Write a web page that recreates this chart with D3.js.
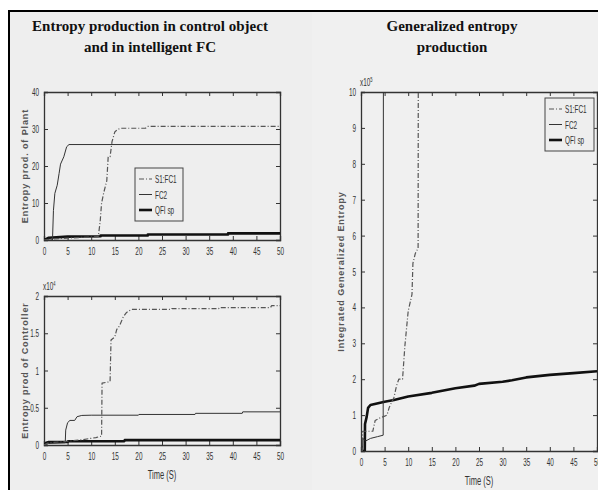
<!DOCTYPE html>
<html>
<head>
<meta charset="utf-8">
<script src="https://cdn.jsdelivr.net/npm/d3@7"></script>
<style>
  html, body { margin: 0; padding: 0; background: #ffffff; }
  svg { display: block; }
  .title { font-family: "Liberation Serif", "Times New Roman", serif; font-weight: bold; font-size: 15px; fill: #111; }
  .tick-label { font-family: "Liberation Sans", Arial, sans-serif; font-size: 11px; fill: #333; }
  .ylab { font-family: "Liberation Sans", Arial, sans-serif; font-weight: bold; font-size: 9px; fill: #555; letter-spacing: 0.9px; }
  .xlab { font-family: "Liberation Sans", Arial, sans-serif; font-size: 13px; fill: #333; }
  .leg { font-family: "Liberation Sans", Arial, sans-serif; font-size: 11px; fill: #333; }
</style>
</head>
<body>
<svg id="chart" width="598" height="490"></svg>
<script>
// ---- data ----------------------------------------------------------
const seriesNames = ["S1:FC1", "FC2", "QFI sp"];
const timeTicks = [0, 5, 10, 15, 20, 25, 30, 35, 40, 45, 50];
const plantTicks = [0, 10, 20, 30, 40];
const ctrlTicks = [0, 0.5, 1, 1.5, 2];
const genTicks = [0, 1, 2, 3, 4, 5, 6, 7, 8, 9, 10];

// Entropy production of the plant
const plantFC1T = [0, 2, 5, 8, 11.5, 11.9, 12.2, 12.7, 13.3, 13.6, 14.0, 14.4, 15.0, 15.5, 16.2, 17.5, 21.5, 22, 50];
const plantFC1V = [0, 0.3, 0.5, 0.7, 0.9, 5, 10, 13, 16, 22.5, 22.5, 26.5, 29.2, 29.8, 30.2, 30.2, 30.2, 30.7, 30.7];
const plantFC2T = [0, 1.8, 2.0, 2.3, 2.8, 3.2, 3.5, 4.2, 4.8, 5.3, 50];
const plantFC2V = [0, 0, 8, 12.6, 14.8, 18, 20.5, 22.5, 25.2, 25.8, 25.8];
const plantQFIT = [0, 0.5, 1, 5, 12, 12, 22, 22, 39, 39, 50];
const plantQFIV = [0, 0.3, 0.6, 0.9, 1.0, 1.2, 1.2, 1.5, 1.5, 1.8, 1.8];

// Entropy production of the controller (x10^4)
const ctrlFC1T = [0, 1, 3, 5, 8, 11, 12.2, 12.3, 14, 14.2, 15, 15.4, 16, 16.8, 17.5, 18.5, 27, 27.1, 37, 37.1, 48, 48.2, 50];
const ctrlFC1V = [0, 0.03, 0.04, 0.05, 0.07, 0.1, 0.12, 0.83, 0.85, 1.41, 1.45, 1.55, 1.6, 1.72, 1.78, 1.82, 1.82, 1.83, 1.83, 1.845, 1.845, 1.87, 1.87];
const ctrlFC2T = [0, 1, 4.5, 4.6, 5.0, 5.5, 6.5, 7, 8, 10, 20, 20.1, 32, 32.1, 42, 42.1, 50];
const ctrlFC2V = [0, 0.02, 0.03, 0.2, 0.3, 0.33, 0.33, 0.38, 0.397, 0.4, 0.4, 0.41, 0.41, 0.425, 0.425, 0.445, 0.445];
const ctrlQFIT = [0, 0.5, 1, 5, 5.1, 17, 17.1, 50];
const ctrlQFIV = [0, 0.03, 0.04, 0.04, 0.05, 0.05, 0.065, 0.065];

// Integrated generalized entropy (x10^5)
const genFC1T = [0, 0.3, 0.35, 2.5, 3, 4, 5, 5.5, 6, 7, 7.5, 8, 8.8, 9.3, 10, 10.8, 11, 11.5, 12.1, 12.15];
const genFC1V = [0, 0, 0.55, 0.55, 0.85, 0.92, 0.97, 1.0, 1.22, 1.5, 1.8, 2.0, 2.0, 2.93, 3.9, 4.36, 5.23, 5.5, 5.65, 12];
const genFC2T = [0, 0.3, 0.4, 1, 2, 3.5, 4.7, 4.75];
const genFC2V = [0, 0, 0.35, 0.28, 0.35, 0.4, 0.44, 12];
const genQFIT = [0, 0.8, 0.85, 1.2, 1.5, 2, 5, 7, 10, 15, 20, 24, 25, 30, 32, 35, 40, 45, 50];
const genQFIV = [0, 0, 0.75, 0.95, 1.2, 1.28, 1.37, 1.42, 1.52, 1.62, 1.75, 1.82, 1.87, 1.93, 1.97, 2.05, 2.12, 2.17, 2.22];

// ---- styles for the three series ------------------------------------
const lineStyles = {
  "S1:FC1": { stroke: "#555", width: 1.2, dash: "5,2,1,2" },
  "FC2":    { stroke: "#333", width: 1.0, dash: null },
  "QFI sp": { stroke: "#111", width: 2.6, dash: null }
};
const NARROW = 0.58;   // horizontal squeeze for the condensed axis lettering

const svg = d3.select("#chart");

// page background and frame
svg.append("rect").attr("x", 9).attr("y", 11).attr("width", 589).attr("height", 479).attr("fill", "#eeeeee");
svg.append("rect").attr("x", 312).attr("y", 12).attr("width", 286).attr("height", 478).attr("fill", "#f0f0f0");
svg.append("line").attr("x1", 9).attr("x2", 598).attr("y1", 11).attr("y2", 11).attr("stroke", "#000").attr("stroke-width", 2);
svg.append("line").attr("x1", 9).attr("x2", 9).attr("y1", 10).attr("y2", 490).attr("stroke", "#000").attr("stroke-width", 2);

// titles
const titles = [
  { x: 150, lines: ["Entropy production in control object", "and in intelligent FC"] },
  { x: 452, lines: ["Generalized entropy", "production"] }
];
titles.forEach(t => {
  t.lines.forEach((s, i) => {
    svg.append("text").attr("class", "title").attr("x", t.x).attr("y", 31 + i * 21)
      .attr("text-anchor", "middle").text(s);
  });
});

function pairs(T, V) { return T.map((t, i) => [t, V[i]]); }

// condensed text placed at (x, y)
function narrowText(parent, cls, x, y, anchor, str) {
  return parent.append("text").attr("class", cls)
    .attr("transform", `translate(${x},${y}) scale(${NARROW},1)`)
    .attr("text-anchor", anchor).text(str);
}

let clipId = 0;
function panel(cfg) {
  const x = d3.scaleLinear().domain([0, 50]).range([cfg.x0, cfg.x1]);
  const y = d3.scaleLinear().domain(cfg.yDomain).range([cfg.y0, cfg.y1]);
  const g = svg.append("g");
  const frame = "#333";
  const tickLen = 4;

  const id = "clip" + (clipId++);
  svg.append("clipPath").attr("id", id).append("rect")
    .attr("x", cfg.x0).attr("y", cfg.y1).attr("width", cfg.x1 - cfg.x0).attr("height", cfg.y0 - cfg.y1);

  // axes with inward ticks on all four sides
  const bottom = d3.axisBottom(x).tickValues(timeTicks).tickSize(-tickLen).tickPadding(7).tickFormat(d3.format("d"));
  const top = d3.axisTop(x).tickValues(timeTicks).tickSize(-tickLen).tickFormat("");
  const left = d3.axisLeft(y).tickValues(cfg.yTicks).tickSize(-tickLen).tickPadding(5).tickFormat(d => String(d));
  const right = d3.axisRight(y).tickValues(cfg.yTicks).tickSize(-tickLen).tickFormat("");

  const axes = [
    [bottom, `translate(0,${cfg.y0})`],
    [top, `translate(0,${cfg.y1})`],
    [left, `translate(${cfg.x0},0)`],
    [right, `translate(${cfg.x1},0)`]
  ];
  axes.forEach(([ax, tr]) => {
    const a = g.append("g").attr("transform", tr).call(ax);
    a.attr("font-family", null).attr("font-size", null);
    a.select(".domain").attr("stroke", frame).attr("stroke-width", 1.3);
    a.selectAll(".tick line").attr("stroke", frame).attr("stroke-width", 1);
    a.selectAll(".tick text").attr("class", "tick-label").each(function () {
      const t = d3.select(this);
      const tx = +t.attr("x") || 0;
      const ty = +t.attr("y") || 0;
      t.attr("x", null).attr("y", null)
        .attr("transform", `translate(${tx},${ty}) scale(${NARROW},1)`);
    });
  });

  // series
  const line = d3.line().x(d => x(d[0])).y(d => y(d[1]));
  const lg = g.append("g").attr("clip-path", `url(#${id})`);
  cfg.series.forEach(s => {
    const st = lineStyles[s.name];
    lg.append("path").datum(pairs(s.t, s.v))
      .attr("d", line).attr("fill", "none")
      .attr("stroke", st.stroke).attr("stroke-width", st.width)
      .attr("stroke-dasharray", st.dash).attr("stroke-linejoin", "round");
  });

  // y axis label
  g.append("text").attr("class", "ylab")
    .attr("transform", `translate(${cfg.ylabX},${(cfg.y0 + cfg.y1) / 2}) rotate(-90)`)
    .attr("text-anchor", "middle").attr("dominant-baseline", "middle").text(cfg.ylabel);

  // exponent
  if (cfg.exp) {
    const e = g.append("text").attr("class", "tick-label")
      .attr("transform", `translate(${cfg.x0 - 1},${cfg.y1 - 6}) scale(${NARROW},1)`);
    e.append("tspan").text("x10");
    e.append("tspan").attr("dy", -4).attr("font-size", "7px").text(cfg.exp);
  }

  // x label
  if (cfg.xlabel) {
    narrowText(g, "xlab", (cfg.x0 + cfg.x1) / 2, cfg.y0 + 34, "middle", cfg.xlabel);
  }

  // legend
  if (cfg.legend) {
    const L = cfg.legend;
    const lgd = g.append("g");
    lgd.append("rect").attr("x", L.x).attr("y", L.y).attr("width", L.w).attr("height", L.h)
      .attr("fill", "#eeeeee").attr("stroke", "#444").attr("stroke-width", 1);
    seriesNames.forEach((n, i) => {
      const st = lineStyles[n];
      const yy = L.y + 11 + i * 15.5;
      lgd.append("line").attr("x1", L.x + 4).attr("x2", L.x + 17).attr("y1", yy).attr("y2", yy)
        .attr("stroke", st.stroke).attr("stroke-width", st.width).attr("stroke-dasharray", st.dash);
      narrowText(lgd, "leg", L.x + 20, yy + 4, "start", n);
    });
  }
}

panel({
  x0: 44, x1: 280, y0: 240, y1: 92, yDomain: [0, 40], yTicks: plantTicks,
  ylabel: "Entropy prod. of Plant", ylabX: 26,
  legend: { x: 135, y: 168, w: 48, h: 53 },
  series: [
    { name: "QFI sp", t: plantQFIT, v: plantQFIV },
    { name: "FC2", t: plantFC2T, v: plantFC2V },
    { name: "S1:FC1", t: plantFC1T, v: plantFC1V }
  ]
});

panel({
  x0: 44, x1: 280, y0: 445, y1: 296, yDomain: [0, 2], yTicks: ctrlTicks,
  ylabel: "Entropy prod of Controller", ylabX: 26, exp: "4", xlabel: "Time (S)",
  series: [
    { name: "QFI sp", t: ctrlQFIT, v: ctrlQFIV },
    { name: "FC2", t: ctrlFC2T, v: ctrlFC2V },
    { name: "S1:FC1", t: ctrlFC1T, v: ctrlFC1V }
  ]
});

panel({
  x0: 361, x1: 597, y0: 451, y1: 92, yDomain: [0, 10], yTicks: genTicks,
  ylabel: "Integrated Generalized Entropy", ylabX: 342, exp: "5", xlabel: "Time (S)",
  legend: { x: 545, y: 98, w: 49, h: 53 },
  series: [
    { name: "QFI sp", t: genQFIT, v: genQFIV },
    { name: "FC2", t: genFC2T, v: genFC2V },
    { name: "S1:FC1", t: genFC1T, v: genFC1V }
  ]
});
</script>
</body>
</html>
